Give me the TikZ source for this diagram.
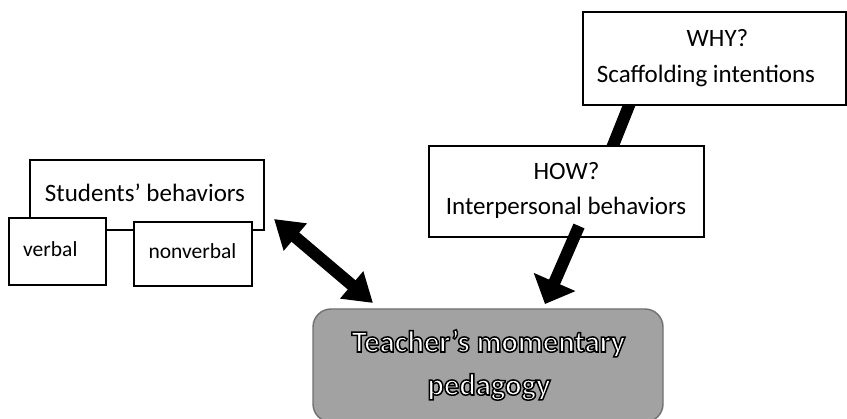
\documentclass[tikz,border=0pt]{standalone}
\usepackage{fontspec}
\setmainfont{Carlito}
\usetikzlibrary{arrows.meta,backgrounds}
\definecolor{tgray}{HTML}{A2A2A2}
\definecolor{tborder}{HTML}{707070}
\newcommand{\outlinedtext}[1]{\textcolor{white}{\special{pdf:literal direct 2 Tr 1.5 w 0 0 0 RG 1 1 1 rg}#1\special{pdf:literal direct 0 Tr 1 w}}}
\tikzset{
  box/.style={draw=black, line width=1.4pt, fill=white, inner sep=0pt},
  lbl/.style={anchor=base, inner sep=0pt, font=\fontsize{25}{30}\selectfont},
  slbl/.style={anchor=base, inner sep=0pt, font=\fontsize{21.5}{25}\selectfont},
  tlbl/.style={anchor=base, inner sep=0pt, font=\bfseries\fontsize{30.6}{36}\selectfont},
  conn/.style={line width=12pt, black},
  bigtip/.style={-{Triangle[length=24pt 0 0, width=44pt 0 0]}},
  dbltip/.style={{Triangle[length=28pt 0 0, width=34pt 0 0]}-{Triangle[length=28pt 0 0, width=34pt 0 0]}}
}
\begin{document}
\begin{tikzpicture}[x=1pt,y=-1pt]
\useasboundingbox (0,0) rectangle (847,419);
% boxes
\node[box, minimum width=234pt, minimum height=70pt] (stud) at (147,195) {};
\node[box, minimum width=97pt, minimum height=67pt] (verb) at (57.5,251.5) {};
\node[box, minimum width=118pt, minimum height=64pt] (nonv) at (193,254) {};
\node[box, minimum width=263pt, minimum height=93pt] (why) at (714.5,58.5) {};
\node[box, minimum width=275pt, minimum height=91pt] (how) at (566.5,191.5) {};
\node[draw=tborder, line width=1.4pt, fill=tgray, rounded corners=18pt,
      minimum width=350pt, minimum height=113pt] (teach) at (488,365.5) {};
% connector points
\coordinate (whyout) at (632,98);
\coordinate (howin) at (610,153);
\coordinate (howout) at (579,226);
\coordinate (teachin) at (545,304);
\coordinate (studin) at (274,219);
\coordinate (teachin2) at (373,303);
\begin{scope}[on background layer]
\draw[conn] (whyout) -- (howin);
\end{scope}
\draw[conn, bigtip] (howout) -- (teachin);
\draw[conn, dbltip] (studin) -- (teachin2);
% texts
\node[lbl] (tstud) at (145,202) {Students’ behaviors};
\node[slbl, anchor=base west] (tverb) at (23,257) {verbal};
\node[slbl] (tnonv) at (192.5,259) {nonverbal};
\node[lbl] (twhy) at (717.5,47) {WHY?};
\node[lbl] (tscaf) at (706,83) {Scaffolding intentions};
\node[lbl] (thow) at (566.5,180) {HOW?};
\node[lbl] (tinter) at (566,215) {Interpersonal behaviors};
\node[tlbl] (tteach1) at (488.5,352) {\outlinedtext{Teacher’s momentary}};
\node[tlbl] (tteach2) at (489,395) {\outlinedtext{pedagogy}};
\end{tikzpicture}
\end{document}
